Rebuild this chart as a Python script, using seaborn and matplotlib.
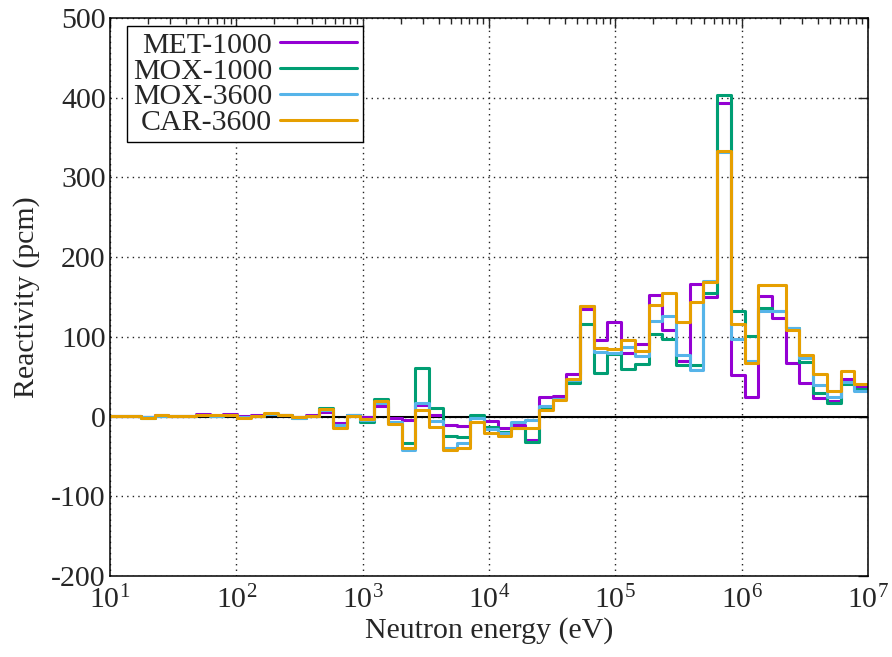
import matplotlib
matplotlib.use("Agg")
import matplotlib.pyplot as plt
from matplotlib.ticker import FixedLocator, LogFormatterSciNotation, NullFormatter
import pandas as pd
import seaborn as sns

# Energy group boundaries (eV), lethargy width 0.25, ascending
edges = [8.3153, 10.677, 13.710, 17.603, 22.603, 29.023, 37.267, 47.851, 61.442,
         78.893, 101.30, 130.07, 167.02, 214.45, 275.36, 353.57, 454.00, 582.95,
         748.52, 961.12, 1234.1, 1584.6, 2034.7, 2612.6, 3354.6, 4307.4, 5530.8,
         7101.7, 9118.8, 11709, 15034, 19305, 24788, 31828, 40868, 52475, 67379,
         86517, 111090, 142640, 183160, 235180, 301970, 387740, 497870, 639280,
         820850, 1054000, 1353400, 1737700, 2231300, 2865000, 3678800, 4723700,
         6065300, 7788000, 10000000]

# Reactivity contribution per group (pcm), lowest energy group first
met_1000 = [0.5, 0.4, 0.4, -1.0, 1.5, 0.5, 0.5, 3.8, 1.5, 3.0, 0.5, 2.5, 3.0, 1.5,
            -0.5, 2.5, 6.0, -7.5, 2.5, -0.5, 13.0, -1.3, -4.5, 14.0, 2.0, -10.0,
            -12.2, -1.0, -6.0, -14.5, -10.0, -29.0, 25.0, 25.5, 53.5, 134.5, 95.7,
            118.3, 79.8, 91.6, 153.0, 108.3, 69.4, 166.8, 150.5, 393.5, 51.8, 25.0,
            151.0, 123.5, 67.2, 42.6, 23.0, 20.0, 47.2, 38.5]
mox_1000 = [0.5, 0.3, 0.4, -1.5, 1.2, 0.4, 0.4, 1.5, 1.0, 1.5, -0.5, 0.5, 3.5, 1.5,
            -2.0, 0.5, 10.8, -13.5, 1.5, -6.7, 21.5, -8.0, -33.0, 61.5, 11.0, -24.0,
            -26.0, 1.4, -12.5, -19.5, -14.0, -32.5, 12.5, 22.0, 42.0, 116.7, 55.0,
            79.0, 59.2, 66.0, 104.0, 97.8, 64.4, 64.4, 155.0, 404.0, 132.5, 100.8,
            136.5, 133.0, 111.6, 68.5, 29.6, 17.5, 41.0, 34.5]
mox_3600 = [0.5, 0.3, 0.4, -1.0, 1.2, 0.4, 0.4, 1.5, 1.0, 2.0, -0.5, 0.5, 3.5, 1.5,
            -1.5, 1.0, 8.0, -10.5, 1.5, -4.6, 16.5, -7.0, -42.0, 17.0, -5.5, -39.0,
            -33.0, -2.0, -15.0, -21.0, -7.0, -4.6, 13.5, 22.5, 46.5, 139.0, 81.0,
            79.5, 87.0, 75.7, 119.6, 126.2, 77.8, 59.0, 170.0, 332.0, 97.8, 70.0,
            133.0, 133.0, 111.6, 74.0, 39.6, 25.0, 43.5, 32.0]
car_3600 = [0.5, 0.4, 0.4, -1.3, 2.0, 0.5, 0.5, 1.5, 1.5, 1.5, -1.5, 0.5, 4.0, 2.5,
            -0.5, 1.0, 9.0, -13.8, 1.0, -2.5, 19.5, -9.0, -40.0, 8.7, -13.5, -41.5,
            -39.0, -6.3, -20.5, -24.5, -14.0, -14.5, 7.9, 20.4, 46.6, 138.6, 86.3,
            85.3, 96.6, 82.0, 139.6, 155.6, 118.7, 143.8, 169.0, 333.0, 116.7, 67.3,
            164.7, 164.7, 109.0, 77.5, 53.0, 32.5, 56.8, 40.3]

cores = ["MET-1000", "MOX-1000", "MOX-3600", "CAR-3600"]
series = [met_1000, mox_1000, mox_3600, car_3600]
colors = ["#9400D3", "#009E73", "#56B4E9", "#E69F00"]
y_ticks = [-200, -100, 0, 100, 200, 300, 400, 500]
x_ticks = [1e1, 1e2, 1e3, 1e4, 1e5, 1e6, 1e7]

# Long-form table for a step plot: each group value holds until the next boundary
rows = []
for name, vals in zip(cores, series):
    for e, v in zip(edges, vals + [vals[-1]]):
        rows.append({"energy": e, "reactivity": v, "core": name})
df = pd.DataFrame(rows)

sns.set_style("white")
plt.rcParams["font.family"] = ["Liberation Serif", "DejaVu Serif"]
plt.rcParams["mathtext.fontset"] = "custom"
plt.rcParams["mathtext.rm"] = "Liberation Serif"
plt.rcParams["mathtext.it"] = "Liberation Serif:italic"
plt.rcParams["axes.unicode_minus"] = False

fig = plt.figure(figsize=(8.92, 6.57), dpi=100)
ax = fig.add_axes([110 / 892, 81 / 657, 758 / 892, 558 / 657])

ax.axhline(0, color="black", lw=1.5, zorder=1.5)
sns.lineplot(data=df, x="energy", y="reactivity", hue="core", hue_order=cores,
             palette=dict(zip(cores, colors)), estimator=None, sort=False,
             drawstyle="steps-post", lw=2.2, ax=ax, zorder=2)

ax.set_xscale("log")
ax.set_xlim(10, 1e7)
ax.set_ylim(-200, 500)
ax.set_yticks(y_ticks)
ax.xaxis.set_major_locator(FixedLocator(x_ticks))
ax.xaxis.set_major_formatter(LogFormatterSciNotation())
minor = [m * d for d in x_ticks[:-1] for m in range(2, 10)]
ax.xaxis.set_minor_locator(FixedLocator(minor))
ax.xaxis.set_minor_formatter(NullFormatter())

ax.grid(True, which="major", color="#222222", linestyle=(0, (1, 3)), lw=1.0)
ax.tick_params(which="both", direction="in", top=True, right=True,
               labelsize=21.5, width=1.0)
ax.tick_params(which="major", length=7)
ax.tick_params(which="minor", length=4)
ax.tick_params(axis="y", pad=3)
ax.tick_params(axis="x", pad=7)
for s in ax.spines.values():
    s.set_linewidth(1.1)
    s.set_color("black")

ax.set_xlabel("Neutron energy (eV)", fontsize=21.5, labelpad=2)
ax.set_ylabel("Reactivity (pcm)", fontsize=21.5, labelpad=8)

handles, labels = ax.get_legend_handles_labels()
leg = ax.legend(handles, labels, loc="upper left", bbox_to_anchor=(0.0224, 0.9857),
                borderaxespad=0, markerfirst=False, fancybox=False, framealpha=1,
                edgecolor="black", fontsize=21.5, handlelength=2.6,
                handletextpad=0.25, borderpad=0.2, labelspacing=-0.04)
leg.get_frame().set_linewidth(1.0)
for line in leg.get_lines():
    line.set_linewidth(2.2)

fig.savefig("out.png", dpi=100, facecolor="white")
